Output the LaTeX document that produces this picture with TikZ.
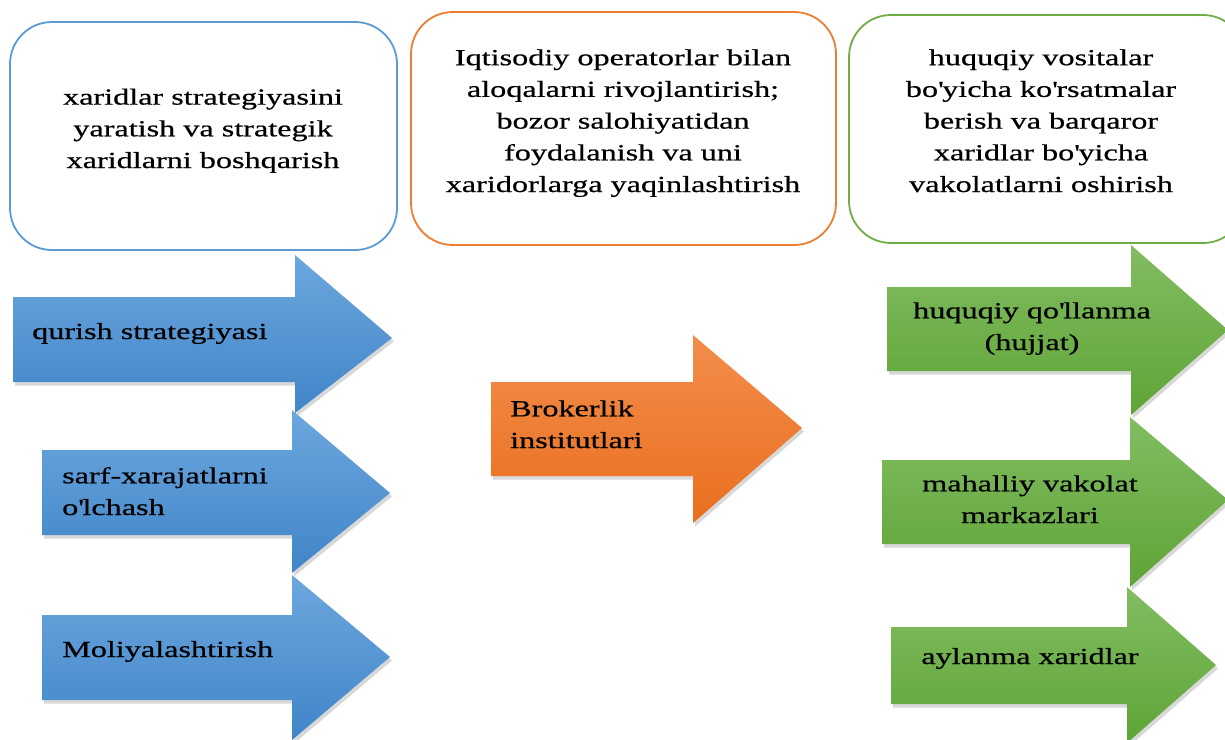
\documentclass[tikz,border=0pt]{standalone}
\usepackage{fontspec}
\setmainfont{Liberation Serif}[FakeStretch=1.40, FakeBold=0.6]
\usetikzlibrary{shadows}
\newcommand{\apos}{\textquotesingle}
\definecolor{boxblue}{RGB}{91,155,213}
\definecolor{boxorange}{RGB}{237,125,49}
\definecolor{boxgreen}{RGB}{112,173,71}
\definecolor{bluetop}{RGB}{108,167,222}
\definecolor{bluebot}{RGB}{64,133,200}
\definecolor{greentop}{RGB}{130,189,98}
\definecolor{greenbot}{RGB}{94,164,54}
\definecolor{orangetop}{RGB}{243,142,76}
\definecolor{orangebot}{RGB}{233,110,30}
\tikzset{
  panel/.style={rounded corners=42pt, line width=1.8pt, fill=white},
  arrowshadow/.style={drop shadow={opacity=0.3, shadow xshift=2pt, shadow yshift=-3.5pt}},
  bluearrow/.style={arrowshadow, top color=bluetop, bottom color=bluebot},
  greenarrow/.style={arrowshadow, top color=greentop, bottom color=greenbot},
  orangearrow/.style={arrowshadow, top color=orangetop, bottom color=orangebot},
  txt/.style={font=\fontsize{23}{31.7}\selectfont, inner sep=0pt, text=black},
}
\begin{document}
\begin{tikzpicture}[x=1pt,y=-1pt]
\path[use as bounding box] (0,0) rectangle (1225,739);
\clip (0,0) rectangle (1225,739);
\fill[white] (0,0) rectangle (1225,739);
% top panels
\draw[panel, draw=boxblue] (10,22) rectangle (397,250);
\draw[panel, draw=boxorange] (411,12) rectangle (836,245);
\draw[panel, draw=boxgreen] (849,15) rectangle (1245,243);
% left arrows
\path[bluearrow] (13,297) -- (295,297) -- (295,255) -- (392,338) -- (295,413) -- (295,382) -- (13,382) -- cycle;
\path[bluearrow] (42,450) -- (292,450) -- (292,410) -- (390,493) -- (292,573) -- (292,535) -- (42,535) -- cycle;
\path[bluearrow] (42,615) -- (292,615) -- (292,575) -- (390,657) -- (292,740) -- (292,700) -- (42,700) -- cycle;
% middle arrow
\path[orangearrow] (491,382) -- (693,382) -- (693,335) -- (802,428) -- (693,523) -- (693,476) -- (491,476) -- cycle;
% right arrows
\path[greenarrow] (887,287) -- (1131,287) -- (1131,245) -- (1228,330) -- (1131,415) -- (1131,371) -- (887,371) -- cycle;
\path[greenarrow] (882,460) -- (1130,460) -- (1130,417) -- (1228,500) -- (1130,587) -- (1130,544) -- (882,544) -- cycle;
\path[greenarrow] (891,627) -- (1127,627) -- (1127,587) -- (1216,665) -- (1127,743) -- (1127,704) -- (891,704) -- cycle;
% texts (anchor base = baseline of last line)
\node[txt, align=center, anchor=base] (t1) at (203,168) {xaridlar strategiyasini\\yaratish va strategik\\xaridlarni boshqarish};
\node[txt, align=center, anchor=base] (t2) at (623,192) {Iqtisodiy operatorlar bilan\\aloqalarni rivojlantirish;\\bozor salohiyatidan\\foydalanish va uni\\xaridorlarga yaqinlashtirish};
\node[txt, align=center, anchor=base] (t3) at (1041,192) {huquqiy vositalar\\bo\apos yicha ko\apos rsatmalar\\berish va barqaror\\xaridlar bo\apos yicha\\vakolatlarni oshirish};
\node[txt, anchor=base west] (a1) at (32,339) {qurish strategiyasi};
\node[txt, align=left, anchor=base west] (a2) at (62,515) {sarf-xarajatlarni\\o\apos lchash};
\node[txt, anchor=base west] (a3) at (62,657) {Moliyalashtirish};
\node[txt, align=left, anchor=base west] (b1) at (510,448) {Brokerlik\\institutlari};
\node[txt, align=center, anchor=base] (g1) at (1032,350) {huquqiy qo\apos llanma\\(hujjat)};
\node[txt, align=center, anchor=base] (g2) at (1030,523) {mahalliy vakolat\\markazlari};
\node[txt, anchor=base] (g3) at (1030,664) {aylanma xaridlar};
\end{tikzpicture}
\end{document}
